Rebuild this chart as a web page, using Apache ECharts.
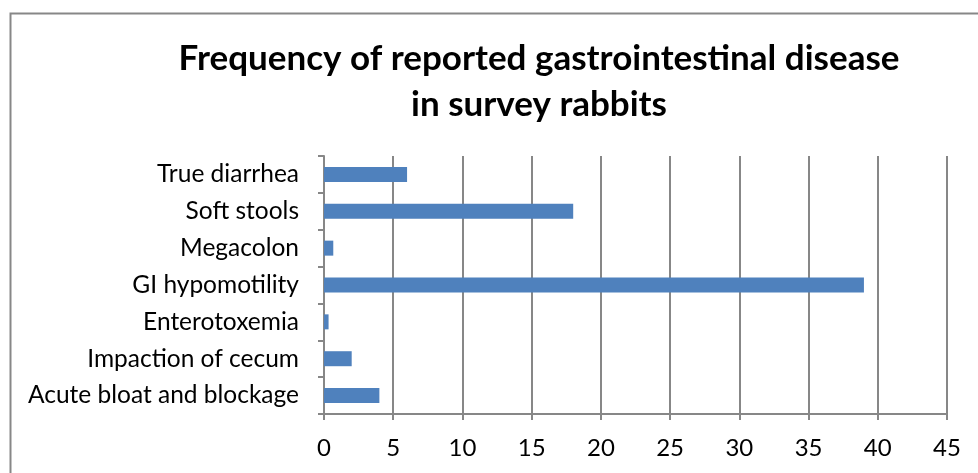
<!DOCTYPE html>
<html>
<head>
<meta charset="utf-8">
<script src="https://cdn.jsdelivr.net/npm/echarts@6/dist/echarts.min.js"></script>
<style>html,body{margin:0;padding:0;background:#fff;}#c{width:978px;height:473px;}</style>
</head>
<body>
<div id="c"></div>
<script>
const titleLines = ['Frequency of reported gastrointestinal disease', 'in survey rabbits'];
const categories = ['True diarrhea', 'Soft stools', 'Megacolon', 'GI hypomotility', 'Enterotoxemia', 'Impaction of cecum', 'Acute bloat and blockage'];
const values = [6, 18, 0.67, 39, 0.33, 2, 4];
const xTicks = { min: 0, max: 45, interval: 5 };

const chart = echarts.init(document.getElementById('c'), null, { renderer: 'canvas' });
const font = 'Lato';
chart.setOption({
  animation: false,
  backgroundColor: '#ffffff',
  graphic: [{
    type: 'rect', left: 8, top: 11, z: -1,
    shape: { width: 1100, height: 600 },
    style: { fill: 'none', stroke: '#878787', lineWidth: 2 }
  }],
  title: {
    text: titleLines.join('\n'),
    left: 534, top: 31, textAlign: 'center',
    textStyle: { fontFamily: font, fontWeight: 'bold', fontSize: 35, lineHeight: 46, color: '#000' }
  },
  grid: { left: 324, right: 31, top: 156, bottom: 59, containLabel: false },
  xAxis: {
    type: 'value', min: xTicks.min, max: xTicks.max, interval: xTicks.interval,
    axisLine: { show: true, lineStyle: { color: '#878787', width: 2 } },
    axisTick: { show: true, length: 6, lineStyle: { color: '#878787', width: 2 } },
    splitLine: { show: true, lineStyle: { color: '#878787', width: 2 } },
    axisLabel: { fontFamily: font, fontSize: 24, color: '#000', margin: 22 }
  },
  yAxis: {
    type: 'category', data: categories, inverse: true,
    axisLine: { show: true, lineStyle: { color: '#878787', width: 2 } },
    axisTick: { show: true, length: 6, alignWithLabel: false, lineStyle: { color: '#878787', width: 2 } },
    axisLabel: { fontFamily: font, fontSize: 24.5, color: '#000', margin: 25 }
  },
  series: [{
    type: 'bar', data: values, barWidth: 15,
    itemStyle: { color: '#4F81BD' }
  }]
});
</script>
</body>
</html>
